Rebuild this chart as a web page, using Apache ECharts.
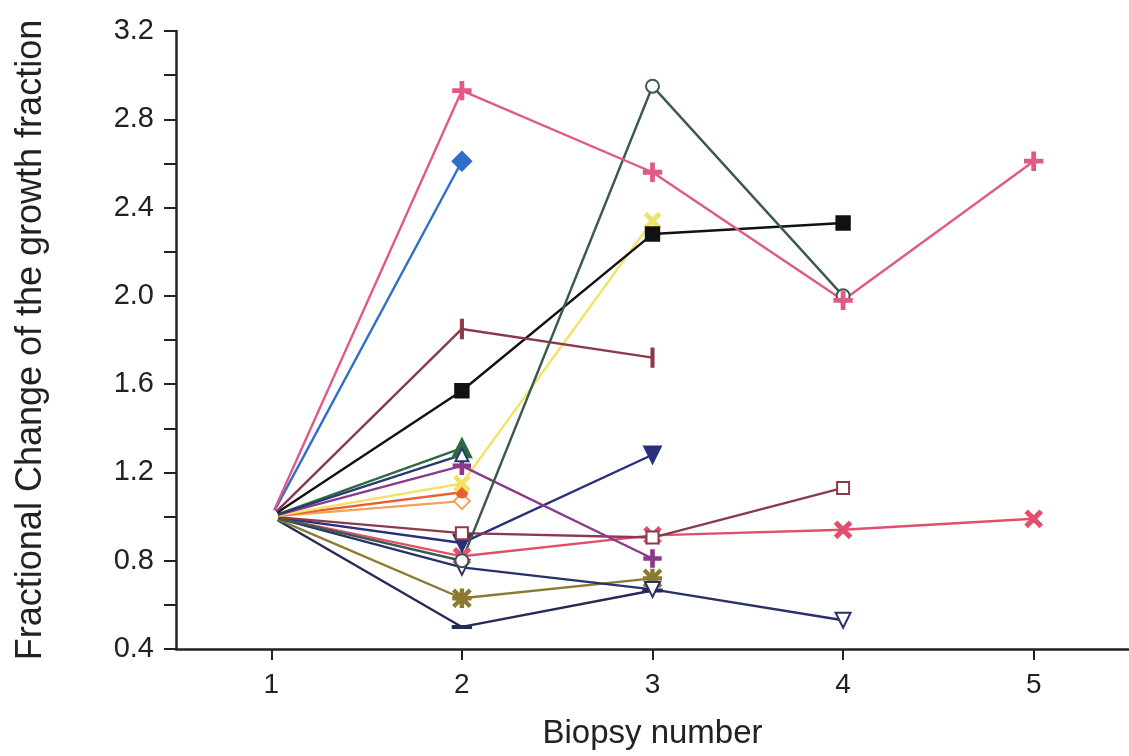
<!DOCTYPE html>
<html><head><meta charset="utf-8">
<script src="https://cdn.jsdelivr.net/npm/echarts@6/dist/echarts.min.js"></script>
<style>html,body{margin:0;padding:0;background:#fff}#c{width:1129px;height:756px}</style>
</head><body><div id="c"></div>
<script>
// ---- data ----
const biopsy = [1, 2, 3, 4, 5];
const yTicks = [0.4, 0.8, 1.2, 1.6, 2.0, 2.4, 2.8, 3.2];
const pinkPlus      = [1.0, 2.93, 2.56, 1.98, 2.61];
const blueDiamond   = [1.0, 2.61, null, null, null];
const greenCircle   = [1.0, 0.80, 2.95, 2.00, null];
const maroonBar     = [1.0, 1.85, 1.72, null, null];
const blackSquare   = [1.0, 1.57, 2.28, 2.33, null];
const greenTriangle = [1.0, 1.31, null, null, null];
const navyOpenTri   = [1.0, 1.28, null, null, null];
const purplePlus    = [1.0, 1.23, 0.81, null, null];
const yellowCross   = [1.0, 1.15, 2.34, null, null];
const orangeDot     = [1.0, 1.11, null, null, null];
const orangeDiamond = [1.0, 1.07, null, null, null];
const maroonSquare  = [1.0, 0.925, 0.905, 1.13, null];
const navyDown      = [1.0, 0.88, 1.28, null, null];
const pinkCross     = [1.0, 0.82, 0.915, 0.94, 0.99];
const navyOpenDown  = [1.0, 0.77, 0.67, 0.53, null];
const oliveStar     = [1.0, 0.63, 0.72, null, null];
const navyDash      = [1.0, 0.50, 0.665, null, null];

// ---- symbols / styles ----
const PLUS = 'path://M4.3,0H5.7V4.3H10V5.7H5.7V10H4.3V5.7H0V4.3H4.3Z';
const STAR = 'path://M4.4,0H5.6V4.4H10V5.6H5.6V10H4.4V5.6H0V4.4H4.4Z M0.2,1 L1,0.2 L9.8,9 L9,9.8Z M9,0.2 L9.8,1 L1,9.8 L0.2,9Z';

const defs = [
  {d: navyDash,      c: '#252a58', sym: 'rect', size: [15, 3]},
  {d: oliveStar,     c: '#8c7a30', sym: STAR, size: 17},
  {d: navyOpenDown,  c: '#2a3068', sym: 'emptyTriangle', size: 15, rot: 180},
  {d: pinkCross,     c: '#e0506c', sym: PLUS, size: 19, rot: 45},
  {d: navyDown,      c: '#27307c', sym: 'triangle', size: 16, rot: 180},
  {d: maroonSquare,  c: '#8a3a4a', sym: 'emptyRect', size: 12},
  {d: orangeDiamond, c: '#f2a25a', sym: 'emptyDiamond', size: 16},
  {d: orangeDot,     c: '#e8602e', sym: 'circle', size: 10},
  {d: yellowCross,   c: '#f2e26a', sym: PLUS, size: 18, rot: 45},
  {d: purplePlus,    c: '#8a3a8a', sym: PLUS, size: 16},
  {d: greenTriangle, c: '#2e6a40', sym: 'triangle', size: 18},
  {d: navyOpenTri,   c: '#283a70', sym: 'emptyTriangle', size: 13},
  {d: blackSquare,   c: '#111111', sym: 'rect', size: 13},
  {d: maroonBar,     c: '#8a3a4c', sym: 'rect', size: [3, 15]},
  {d: greenCircle,   c: '#3a5a50', sym: 'emptyCircle', size: 13},
  {d: blueDiamond,   c: '#2f6fc8', sym: 'diamond', size: 18},
  {d: pinkPlus,      c: '#e05a88', sym: PLUS, size: 17}
];

const series = defs.map(s => ({
  type: 'line',
  data: biopsy.map((x, i) => {
    const v = s.d[i];
    if (v === null || v === undefined) return [x, null];
    if (i === 0) return {value: [x, v], symbol: 'emptyCircle', symbolSize: 11, symbolRotate: 0,
      itemStyle: {color: '#ffffff', borderColor: '#777', borderWidth: 1}};
    return [x, v];
  }),
  symbol: s.sym,
  symbolSize: s.size,
  symbolRotate: s.rot || 0,
  showAllSymbol: true,
  connectNulls: false,
  lineStyle: {color: s.c, width: 2.4},
  itemStyle: {color: s.c, borderColor: s.c, borderWidth: 2.4},
  emphasis: {disabled: true},
  animation: false
}));

const FONT = '"Liberation Sans", Arial, sans-serif';
const chart = echarts.init(document.getElementById('c'), null, {renderer: 'canvas'});
chart.setOption({
  backgroundColor: '#ffffff',
  animation: false,
  grid: {left: 176, top: 31, width: 962, height: 618, containLabel: false},
  xAxis: {
    type: 'value', min: 0.5, max: 5.5,
    name: 'Biopsy number', nameLocation: 'middle', nameGap: 68,
    nameTextStyle: {fontFamily: FONT, fontSize: 33, color: '#222'},
    axisLine: {show: true, lineStyle: {color: '#222', width: 2.5}},
    axisTick: {show: true, length: 11, lineStyle: {color: '#222', width: 2}, customValues: biopsy},
    axisLabel: {fontFamily: FONT, fontSize: 28, color: '#222', margin: 22, customValues: biopsy},
    splitLine: {show: false}
  },
  yAxis: {
    type: 'value', min: yTicks[0], max: yTicks[yTicks.length - 1], interval: 0.4,
    name: 'Fractional Change of the growth fraction', nameLocation: 'middle', nameGap: 127,
    nameTextStyle: {fontFamily: FONT, fontSize: 36, color: '#222'},
    axisLine: {show: true, lineStyle: {color: '#222', width: 2.5}},
    axisTick: {show: true, length: 12, lineStyle: {color: '#222', width: 2}},
    minorTick: {show: true, splitNumber: 2, length: 12, lineStyle: {color: '#222', width: 2}},
    axisLabel: {fontFamily: FONT, fontSize: 29, color: '#222', margin: 22,
      formatter: v => v.toFixed(1)},
    splitLine: {show: false}
  },
  series: series
});
</script>
</body></html>
